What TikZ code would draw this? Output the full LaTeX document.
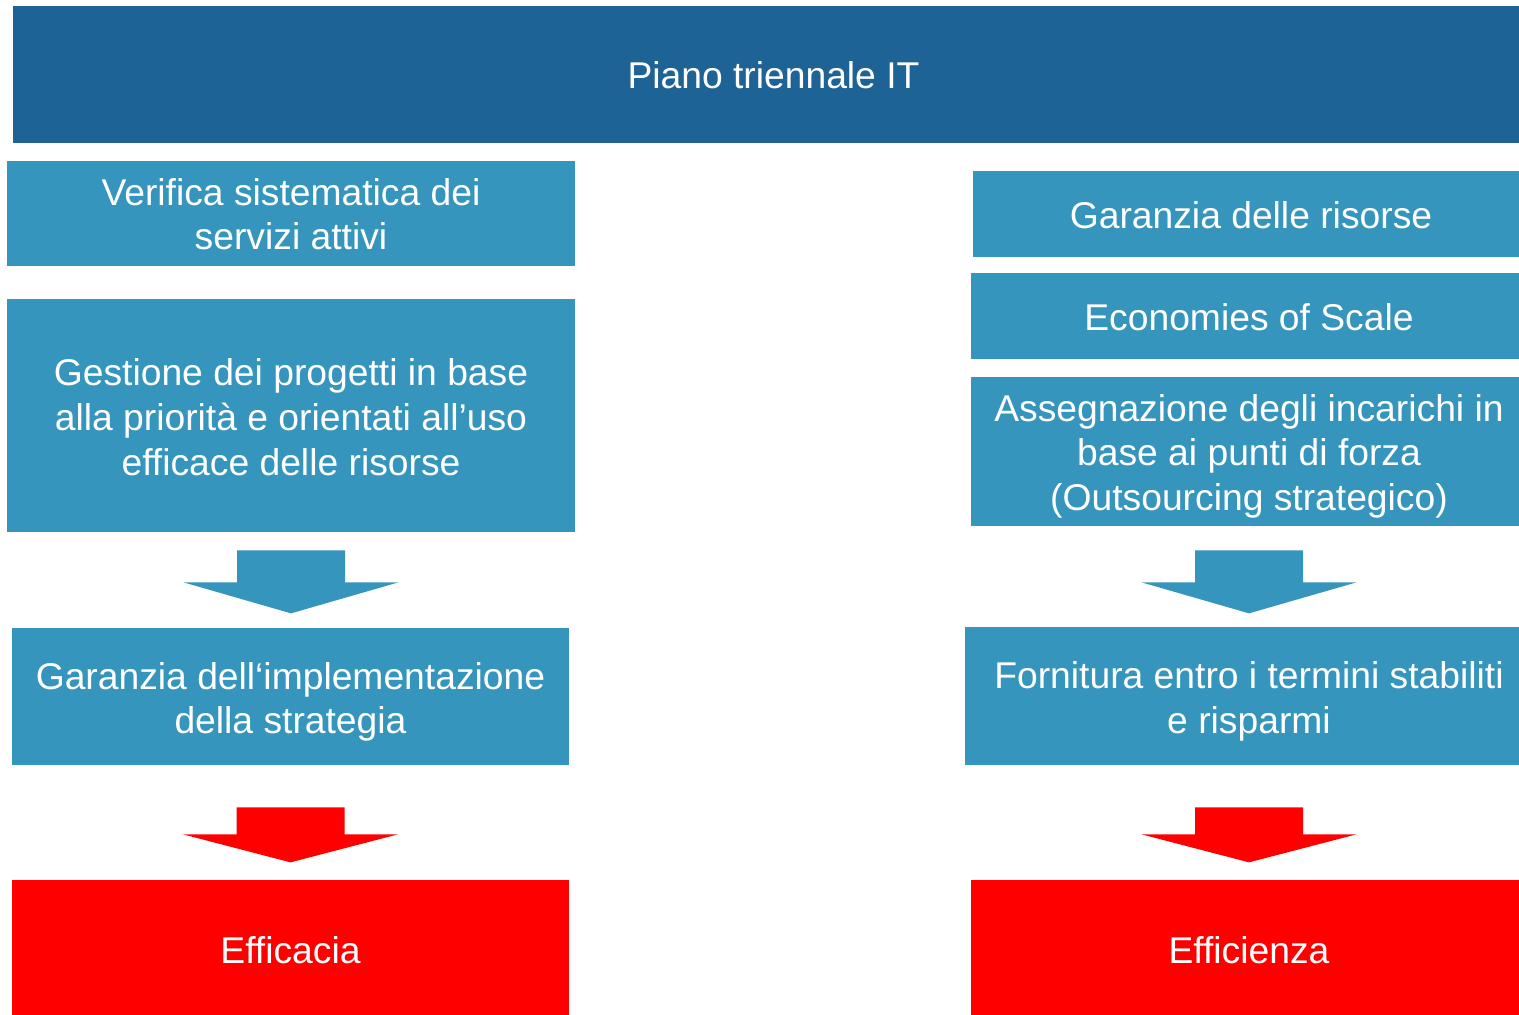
\documentclass[tikz,border=0pt]{standalone}
\usepackage{fontspec}
\setmainfont{Liberation Sans}
\usetikzlibrary{calc}

\definecolor{darkblue}{RGB}{30,99,149}
\definecolor{lightblue}{RGB}{54,149,188}
\definecolor{signalred}{RGB}{255,0,0}

% block arrow pointing down: colour, top point, body height, head height
\newcommand{\blockarrow}[4]{%
  \fill[#1] (#2) ++(-1.08,0) -- ++(2.16,0) -- ++(0,-#3) -- ++(1.07,0)
    -- ++(-2.15,-#4) -- ++(-2.15,#4) -- ++(1.07,0) -- cycle;}
% centred lines of text, set a little lower in their box
\newcommand{\boxlabel}[2]{%
  \raisebox{-#1}[\height][\depth]{\begin{tabular}{@{}c@{}}#2\end{tabular}}}

\begin{document}
\begin{tikzpicture}[
    box/.style={fill=lightblue, text=white, align=center, inner sep=0pt,
      font=\fontsize{21.2}{25.4}\selectfont},
    topbox/.style={box, fill=darkblue},
    resultbox/.style={box, fill=signalred}
]
    \clip (0,0) rectangle (30.38,-20.30);

    % Title
    \node[topbox, minimum width=30.42cm, minimum height=2.74cm] (plan) at (15.47,-1.49) {\boxlabel{0.10cm}{Piano triennale IT}};

    % Left column
    \node[box, minimum width=11.36cm, minimum height=2.10cm] (l1) at (5.82,-4.27) {\boxlabel{0.10cm}{Verifica sistematica dei\\servizi attivi}};
    \node[box, minimum width=11.36cm, minimum height=4.66cm] (l2) at (5.82,-8.31) {\boxlabel{0.12cm}{Gestione dei progetti in base\\alla priorità e orientati all’uso\\efficace delle risorse}};
    \node[box, minimum width=11.14cm, minimum height=2.74cm] (l3) at (5.81,-13.93) {\boxlabel{0.12cm}{Garanzia dell‘implementazione\\della strategia}};
    \node[resultbox, minimum width=11.14cm, minimum height=2.70cm] (l4) at (5.81,-18.95) {\boxlabel{0.14cm}{Efficacia}};

    % Right column
    \node[box, minimum width=11.12cm, minimum height=1.72cm] (r1) at (25.02,-4.28) {\boxlabel{0.12cm}{Garanzia delle risorse}};
    \node[box, minimum width=11.12cm, minimum height=1.72cm] (r2) at (24.98,-6.32) {\boxlabel{0.12cm}{Economies of Scale}};
    \node[box, minimum width=11.12cm, minimum height=2.98cm] (r3) at (24.98,-9.03) {\boxlabel{0.11cm}{Assegnazione degli incarichi in\\base ai punti di forza\\(Outsourcing strategico)}};
    \node[box, minimum width=11.36cm, minimum height=2.76cm] (r4) at (24.98,-13.92) {\boxlabel{0.12cm}{Fornitura entro i termini stabiliti\\e risparmi}};
    \node[resultbox, minimum width=11.12cm, minimum height=2.70cm] (r5) at (24.98,-18.95) {\boxlabel{0.14cm}{Efficienza}};

    % Arrows
    \coordinate (al1) at ($(l2.south)+(0,-0.36)$);
    \coordinate (ar1) at ($(r3.south)+(0,-0.48)$);
    \coordinate (al2) at ($(l3.south)+(0,-0.84)$);
    \coordinate (ar2) at ($(r4.south)+(0,-0.84)$);
    \blockarrow{lightblue}{al1}{0.64}{0.62}
    \blockarrow{lightblue}{ar1}{0.64}{0.62}
    \blockarrow{signalred}{al2}{0.54}{0.56}
    \blockarrow{signalred}{ar2}{0.54}{0.56}
\end{tikzpicture}
\end{document}
